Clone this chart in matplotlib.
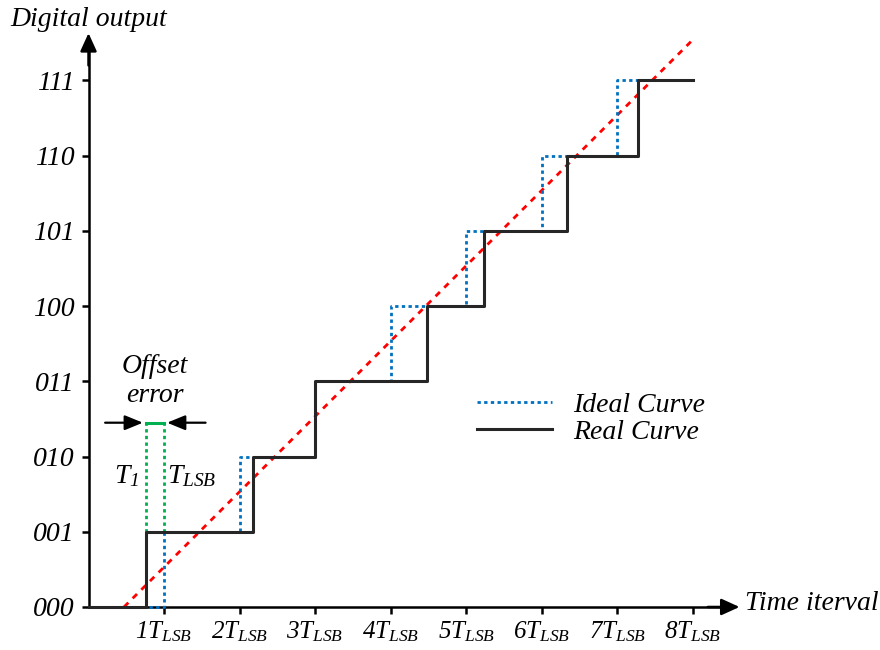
import matplotlib
matplotlib.use("Agg")
import matplotlib.pyplot as plt
from matplotlib.lines import Line2D

plt.rcParams['font.family'] = 'Liberation Serif'
plt.rcParams['font.style'] = 'italic'
plt.rcParams['mathtext.fontset'] = 'custom'
plt.rcParams['mathtext.rm'] = 'Liberation Serif:italic'
plt.rcParams['mathtext.it'] = 'Liberation Serif:italic'

# codes on the y axis
codes = ['000', '001', '010', '011', '100', '101', '110', '111']
# time ticks, in T_LSB units
time_ticks = [1, 2, 3, 4, 5, 6, 7, 8]
time_labels = [r'$%dT_{LSB}$' % t for t in time_ticks]

# ideal transfer curve: edges at whole T_LSB
ideal_x = [0, 1, 2, 3, 4, 5, 6, 7, 8]
ideal_y = [0, 1, 2, 3, 4, 5, 6, 7, 7]
# real (measured) curve
real_x = [0, 0.76, 2.18, 3.0, 4.48, 5.24, 6.34, 7.28, 8.0]
real_y = [0, 1, 2, 3, 4, 5, 6, 7, 7]
# red reference line
ref_x = [0.47, 8.0]
ref_y = [0.0, 7.54]
# offset error marker
t1_x = 0.76
tlsb_x = 1.0
offset_y = 2.45

FS = 20

fig = plt.figure(figsize=(8.8, 6.5), dpi=100)
ax = fig.add_axes([0, 0, 1, 1])
ax.set_xlim(-1.172, 10.48)
ax.set_ylim(-0.572, 8.07)
ax.patch.set_visible(False)

for s in ['top', 'right']:
    ax.spines[s].set_visible(False)
ax.spines['left'].set_position(('data', 0))
ax.spines['bottom'].set_position(('data', 0))
ax.spines['left'].set_bounds(0, 7.4)
ax.spines['bottom'].set_bounds(0, 8.4)
ax.spines['left'].set_linewidth(1.8)
ax.spines['bottom'].set_linewidth(1.8)

ax.set_yticks(range(len(codes)))
ax.set_yticklabels(codes)
ax.set_xticks(time_ticks)
ax.set_xticklabels(time_labels)
ax.tick_params(axis='both', direction='out', length=5, width=1.8)
ax.tick_params(axis='x', pad=4, labelsize=18)
ax.tick_params(axis='y', pad=5, labelsize=FS)

# axis arrows
head = '-|>,head_length=1.1,head_width=0.5'
ax.annotate('', xy=(0, 7.63), xytext=(0, 7.2),
            arrowprops=dict(arrowstyle=head, color='black', lw=1.8,
                            shrinkA=0, shrinkB=0))
ax.annotate('', xy=(8.62, 0), xytext=(8.2, 0),
            arrowprops=dict(arrowstyle=head, color='black', lw=1.8,
                            shrinkA=0, shrinkB=0))

ax.plot(ref_x, ref_y, color='#FF0000', lw=2, linestyle=(0, (2.2, 2.2)), zorder=2)
ax.step(ideal_x, ideal_y, where='post', color='#0070C0', lw=2,
        linestyle=(0, (1.2, 1.2)), zorder=3)
ax.step(real_x, real_y, where='post', color='#262626', lw=2.2, zorder=4)

# offset error
green = '#00B050'
ax.plot([t1_x, t1_x], [1, offset_y], color=green, lw=2, linestyle=(0, (1.2, 1.2)))
ax.plot([tlsb_x, tlsb_x], [1, offset_y], color=green, lw=2, linestyle=(0, (1.2, 1.2)))
ax.plot([t1_x, tlsb_x], [offset_y, offset_y], color=green, lw=2.2)
small_head = '-|>,head_length=1.1,head_width=0.45'
ax.annotate('', xy=(t1_x - 0.04, offset_y), xytext=(0.22, offset_y),
            arrowprops=dict(arrowstyle=small_head, color='black', lw=1.6,
                            shrinkA=0, shrinkB=0))
ax.annotate('', xy=(tlsb_x + 0.04, offset_y), xytext=(1.55, offset_y),
            arrowprops=dict(arrowstyle=small_head, color='black', lw=1.6,
                            shrinkA=0, shrinkB=0))
ax.text(0.88, 3.0, 'Offset\nerror', ha='center', va='center', fontsize=FS,
        linespacing=1.2)
ax.text(0.51, 1.74, r'$T_1$', ha='center', va='center', fontsize=FS)
ax.text(1.37, 1.74, r'$T_{LSB}$', ha='center', va='center', fontsize=FS)

# axis titles
ax.text(-1.04, 7.81, 'Digital output', ha='left', va='center', fontsize=FS)
ax.text(8.69, 0.05, 'Time iterval', ha='left', va='center', fontsize=FS)

handles = [Line2D([], [], color='#0070C0', lw=2, linestyle=(0, (1.2, 1.2))),
           Line2D([], [], color='#262626', lw=2.2)]
ax.legend(handles, ['Ideal Curve', 'Real Curve'], loc='upper left',
          bbox_to_anchor=(5.15, 2.85), bbox_transform=ax.transData,
          frameon=False, fontsize=FS, handlelength=2.7, handletextpad=0.75,
          labelspacing=0.05, borderpad=0, borderaxespad=0)

fig.savefig('out.png', dpi=100)
